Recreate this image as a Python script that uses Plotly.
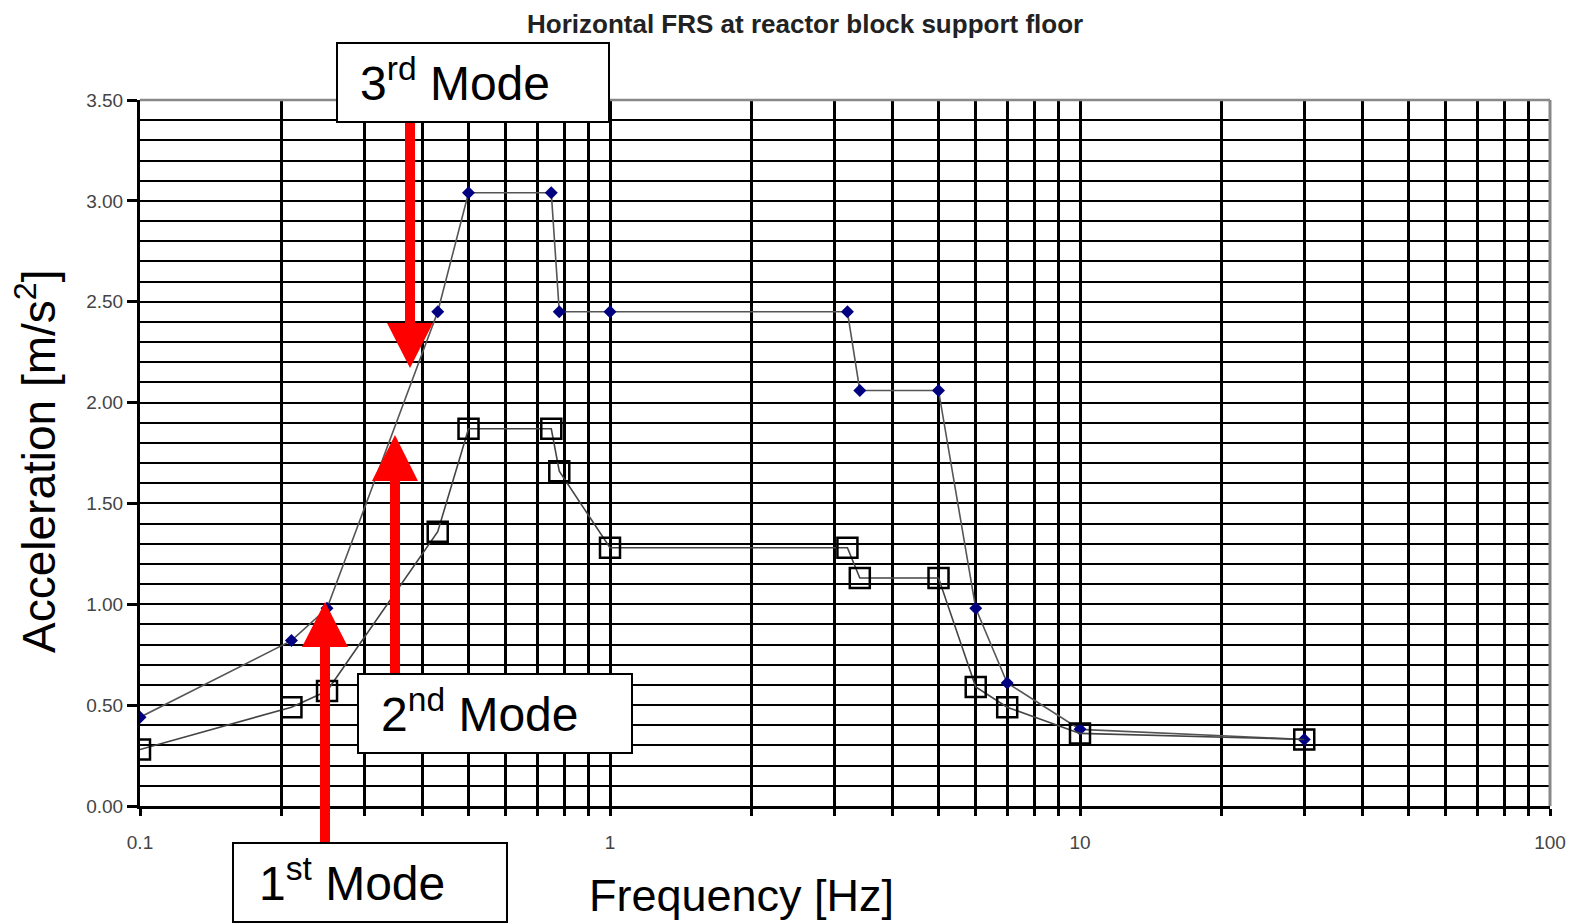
import plotly.graph_objects as go

# ---- data ----
freq = [0.1, 0.21, 0.25, 0.43, 0.5, 0.75, 0.78, 1.0, 3.2, 3.4, 5.0, 6.0, 7.0, 10.0, 30.0]
acc_mode_env = [0.44, 0.82, 0.98, 2.45, 3.04, 3.04, 2.45, 2.45, 2.45, 2.06, 2.06, 0.98, 0.61, 0.38, 0.33]
acc_squares = [0.28, 0.49, 0.57, 1.36, 1.87, 1.87, 1.66, 1.28, 1.28, 1.13, 1.13, 0.59, 0.49, 0.36, 0.33]

y_ticks = [0.0, 0.5, 1.0, 1.5, 2.0, 2.5, 3.0, 3.5]
x_decades = [0.1, 1, 10, 100]
x_decade_labels = ["0.1", "1", "10", "100"]

FONT = "Liberation Sans, Arial, sans-serif"
W, H = 1569, 923
L, R, T, B = 140, 1550, 100, 806

def px(x):
    return (x - L) / (R - L)

def py(y):
    return (B - y) / (B - T)

# x grid at every 1..9 x decade
x_tickvals, x_ticktext = [], []
for d in [0.1, 1, 10]:
    for k in range(1, 10):
        v = round(d * k, 6)
        x_tickvals.append(v)
        x_ticktext.append(x_decade_labels[x_decades.index(d)] if k == 1 else "")
x_tickvals.append(100)
x_ticktext.append("100")

fig = go.Figure()
fig.add_trace(go.Scatter(
    x=freq, y=acc_mode_env, mode="lines+markers",
    line=dict(color="#555555", width=1.6),
    marker=dict(symbol="diamond", size=10, color="#000080"),
    showlegend=False))
fig.add_trace(go.Scatter(
    x=freq, y=acc_squares, mode="lines+markers",
    line=dict(color="#444444", width=1.6),
    marker=dict(symbol="square-open", size=20, color="black", line=dict(width=2.5, color="black")),
    showlegend=False))

shapes = []
# gray top / right borders
shapes.append(dict(type="line", xref="paper", yref="paper", x0=0, x1=1, y0=1, y1=1,
                   line=dict(color="#888888", width=2.5), layer="above"))
shapes.append(dict(type="line", xref="paper", yref="paper", x0=1, x1=1, y0=0, y1=1,
                   line=dict(color="#888888", width=3), layer="above"))

def arrow(cx, y_start, y_base, y_tip, shaft_w=10, head_w=46):
    hs, hh = shaft_w / 2, head_w / 2
    pts = [(cx - hs, y_start), (cx - hs, y_base), (cx - hh, y_base), (cx, y_tip),
           (cx + hh, y_base), (cx + hs, y_base), (cx + hs, y_start)]
    path = "M " + " L ".join(f"{px(a):.5f},{py(b):.5f}" for a, b in pts) + " Z"
    return dict(type="path", xref="paper", yref="paper", path=path,
                fillcolor="#ff0000", line=dict(width=0), layer="above")

shapes.append(arrow(410, 122, 323, 368))
shapes.append(arrow(395, 674, 481, 435))
shapes.append(arrow(325, 843, 647, 602))

boxes = [(337, 43, 609, 122), (358, 674, 632, 753), (233, 843, 507, 922)]
for x0, y0, x1, y1 in boxes:
    shapes.append(dict(type="rect", xref="paper", yref="paper",
                       x0=px(x0), x1=px(x1), y0=py(y1), y1=py(y0),
                       fillcolor="white", line=dict(color="black", width=2), layer="above"))

annotations = []
labels = [("3<sup>rd</sup> Mode", 358, 80), ("2<sup>nd</sup> Mode", 379, 711), ("1<sup>st</sup> Mode", 257, 880)]
for txt, x, y in labels:
    annotations.append(dict(text=txt, xref="paper", yref="paper", x=px(x), y=py(y),
                            xanchor="left", yanchor="middle", showarrow=False,
                            font=dict(family=FONT, size=48, color="black")))

annotations.append(dict(text="Acceleration [m/s<sup>2</sup>]", xref="paper", yref="paper",
                        x=px(36), y=py(462), textangle=-90, xanchor="center", yanchor="middle",
                        showarrow=False, font=dict(family=FONT, size=46, color="black")))
annotations.append(dict(text="Frequency [Hz]", xref="paper", yref="paper",
                        x=px(741), y=py(896), xanchor="center", yanchor="middle",
                        showarrow=False, font=dict(family=FONT, size=45, color="black")))
annotations.append(dict(text="<b>Horizontal FRS at reactor block support floor</b>", xref="paper", yref="paper",
                        x=px(805), y=py(24), xanchor="center", yanchor="middle",
                        showarrow=False, font=dict(family=FONT, size=26, color="#222222")))

fig.update_layout(
    width=W, height=H,
    margin=dict(l=L, r=W - R, t=T, b=H - B, autoexpand=False),
    paper_bgcolor="white", plot_bgcolor="white",
    shapes=shapes, annotations=annotations,
    xaxis=dict(type="log", range=[-1, 2], tickmode="array", tickvals=x_tickvals, ticktext=x_ticktext,
               showgrid=True, gridcolor="black", gridwidth=2.5, automargin=False,
               showline=True, linecolor="black", linewidth=3,
               ticks="outside", ticklen=7, tickwidth=2.5, tickcolor="black", ticklabelstandoff=10,
               tickfont=dict(family=FONT, size=19, color="#444444"), zeroline=False),
    yaxis=dict(range=[0, 3.5], tickmode="array", tickvals=y_ticks,
               ticktext=[f"{v:.2f}" for v in y_ticks], automargin=False,
               showgrid=True, gridcolor="black", gridwidth=2,
               minor=dict(dtick=0.1, showgrid=True, gridcolor="black", gridwidth=2, ticks=""),
               showline=True, linecolor="black", linewidth=3,
               ticks="outside", ticklen=10, tickwidth=2.5, tickcolor="black",
               tickfont=dict(family=FONT, size=19, color="#444444"), zeroline=False),
)

fig.write_html("out.html")
